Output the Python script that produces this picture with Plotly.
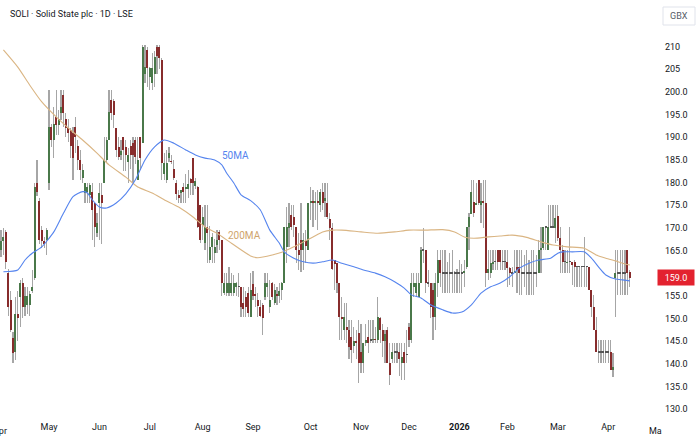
import plotly.graph_objects as go

title_text = "SOLI · Solid State plc · 1D · LSE"
currency = "GBX"
last_price = 159.0

open_ = [
    165, 167, 169, 160, 154, 145.7, 142.5, 151, 154.7, 157.8,
    152.5, 153, 153, 156, 159, 180, 176, 169.6, 167, 167.3,
    180, 192.3, 189.4, 194.4, 192.7, 195.3, 199.3, 194, 192, 191.6,
    191, 192.3, 188, 185, 181, 177.6, 178, 177.2, 178, 175.5,
    168.8, 175.5, 177.2, 180, 185, 189.4, 198.2, 198, 192, 187.8,
    186, 190, 187.8, 184.5, 188, 188.7, 189.4, 180.5, 190, 188.7,
    204, 209.3, 203.3, 202, 204, 210, 210, 207, 182, 180.5,
    185.4, 184.8, 183, 180, 177.3, 177.6, 179, 178.5, 178.6, 180.8,
    185.4, 179.2, 179, 175, 170.6, 166.6, 170.2, 162.9, 165.8, 164.4,
    166.2, 169, 167.3, 155.6, 155.6, 155.6, 155.6, 155.6, 157, 157,
    157, 153.4, 154.8, 155.6, 150.4, 157.5, 155.5, 154.1, 152.6, 153,
    154.8, 157, 152.6, 157.8, 153.4, 155.5, 155, 156.3, 157.8, 165.8,
    170, 172.8, 172.4, 170.2, 165, 167.3, 165.1, 167, 165.1, 175.5,
    176, 175.5, 176, 175, 178, 176, 175.5, 172, 170, 162.9,
    162.2, 157.8, 150.4, 147.4, 148, 147.4, 146, 144, 145, 146.7,
    142.5, 140.1, 144.5, 146, 145.2, 145.2, 145.5, 145.2, 150, 147.4,
    145, 147.4, 140.1, 141, 142.6, 142.6, 142.6, 140.1, 142.6, 142,
    148.1, 145.2, 157, 155.6, 154.8, 157.8, 165.1, 165.1, 157.8, 157.8,
    156.3, 150.4, 157.8, 162.9, 160, 160, 160, 160, 160, 160,
    160, 160, 160, 160, 161.4, 170.2, 173, 175.8, 175, 180.5,
    175, 176, 175.5, 160, 160, 162, 162.5, 165.1, 165.1, 162.5,
    162.5, 162.5, 161.2, 160, 160, 161.4, 161.4, 160, 160, 160,
    160, 160, 160, 160, 160, 165.1, 165.5, 170.2, 165.1, 170.2,
    170.2, 170, 172.6, 167.8, 165.1, 162.5, 162.2, 162.5, 162.5, 162.5,
    161.4, 161.4, 161.4, 161.4, 161.4, 161.4, 156.3, 152.6, 147.4, 142.6,
    142.6, 142.6, 142.6, 142.6, 142.6, 138.6, 159, 160, 160, 160,
    160, 165.1, 160.3,
]
high = [
    169.5, 170, 169.5, 161, 156, 147, 154.7, 156, 158.5, 159,
    157, 157, 156, 160.6, 180, 185, 176.5, 170.5, 168, 170,
    200.4, 193, 196.7, 200.4, 196, 200.4, 200.4, 195.3, 194, 192,
    192.3, 194.5, 189.4, 187.2, 184, 180, 180, 180, 180, 175.5,
    173.2, 180, 180, 190, 190, 200.4, 200.4, 198.5, 192, 190,
    189.4, 190, 189.4, 187.6, 189.5, 190, 190, 190, 190, 210.4,
    210.4, 210, 205.5, 208.6, 209, 210.4, 210.4, 207.5, 186.5, 187.2,
    187.8, 186, 185, 180.5, 178.4, 178.4, 180, 182, 182.8, 181,
    185.4, 181, 179.2, 175, 174.6, 175, 175, 170.5, 168.8, 167.5,
    169.5, 169.5, 167.3, 160, 160, 161.4, 160, 159.5, 158, 160,
    157, 157, 156, 157, 160, 160.5, 157, 155.6, 154, 153.4,
    160, 160, 158.5, 158, 157.5, 157, 157.8, 158, 170.2, 174.6,
    175.5, 175, 175, 170.2, 168.8, 175.5, 168.8, 169.5, 175.5, 179,
    178.4, 178, 178.4, 178.5, 180, 179.8, 179.8, 173.2, 171, 162.9,
    162.2, 157.8, 154.8, 153.5, 153.4, 149.7, 149.7, 148.1, 147.4, 149.7,
    148.8, 144.5, 148.8, 149.7, 149.7, 149.7, 148, 154.8, 150.4, 148.8,
    147.4, 148, 144.5, 144.5, 144.5, 144.5, 144.5, 144.5, 144.5, 147.4,
    149, 160, 160, 160, 160, 165.8, 170, 165.1, 160.7, 157.8,
    157.8, 160, 165.1, 165.1, 165.1, 165.1, 162.5, 164.5, 165, 160.5,
    161, 163, 162, 163, 170.2, 173.2, 180.5, 180.5, 180, 180.5,
    180, 180.5, 180.5, 165.1, 165.1, 165.1, 165.1, 165.1, 165.1, 165.1,
    165.1, 165.1, 161.4, 161.4, 165.1, 165.1, 165.1, 165.1, 164, 165.1,
    163, 165.1, 165.1, 164, 167.3, 170.2, 170.2, 170.2, 175, 175,
    175, 175, 175, 170.2, 166.2, 165.1, 165.1, 170.2, 162.5, 162.9,
    161.4, 161.4, 161.4, 168, 161.4, 161.4, 156.3, 155.2, 150.4, 145.2,
    145.2, 145.2, 145.2, 145.2, 145.2, 142.3, 165.1, 165.1, 165.1, 165.1,
    165.1, 165.1, 160.7,
]
low = [
    163.5, 164, 161, 150.5, 147, 140.2, 140.8, 145, 148, 150,
    150.5, 151, 150.5, 155.6, 158.5, 177, 166.5, 165.5, 165.5, 164,
    178.4, 187.8, 185.4, 190.5, 190.5, 193.8, 192.3, 190, 189, 185.4,
    180.5, 186.5, 182.8, 180.5, 180, 175.5, 175.5, 175.5, 167.3, 165.7,
    168, 167.3, 166.5, 180, 184.3, 189.4, 193.8, 192, 185.6, 185,
    185, 182.6, 182.6, 180, 183, 180, 184, 180.5, 182.8, 188.7,
    202, 201, 200.4, 200.4, 201, 204, 205, 180.5, 180.5, 180,
    184.5, 184, 180.5, 176.2, 175.5, 175.5, 175.5, 175.5, 176.7, 177.2,
    177.2, 178.5, 170, 166.6, 167.3, 165.1, 162.2, 162.2, 162.2, 162.2,
    164.4, 165.1, 155, 155.2, 155, 155, 155, 155, 155, 154.8,
    150.4, 150.4, 150.4, 150.4, 150.4, 154, 152.6, 150.4, 150.4, 146.3,
    154.1, 154.8, 151.1, 154, 153, 153, 153.5, 154, 157.8, 162.2,
    165.8, 169.5, 168, 162.2, 160.7, 160.3, 160.7, 162.2, 165.1, 171.7,
    170.2, 171.7, 169.5, 173.5, 173.9, 172.4, 172, 167.3, 160.7, 156.3,
    155.6, 145.2, 145.2, 145.2, 144.5, 141, 140.1, 142.3, 141, 135.7,
    138, 138, 144, 142.3, 144.5, 144.5, 144.5, 144.5, 144.5, 141.4,
    140.1, 140.1, 135.3, 140.1, 140.1, 140.1, 137.2, 136.4, 136.4, 140.1,
    143.8, 144.5, 154.8, 154.8, 154.8, 157.8, 162.2, 155.6, 157, 150,
    145.2, 147.4, 154.8, 157, 155.6, 155.6, 155.6, 155.6, 155.6, 155.6,
    155.6, 155.6, 155.6, 157, 161, 165.1, 173, 172.4, 175, 175,
    171, 170, 157, 158.5, 159, 160.7, 160.7, 160.7, 160.7, 160.7,
    160.7, 157, 157.4, 157, 160, 155.6, 155.2, 155.2, 157, 155.2,
    155.2, 155.2, 155.2, 157, 160, 160, 165.1, 165.1, 165.1, 170.2,
    170.2, 166.6, 167, 160, 160, 160, 160, 160, 157.4, 157,
    157, 157, 157, 157, 157, 156.3, 150.4, 147.4, 142.6, 140.1,
    140.1, 140.1, 140.1, 140.1, 138.6, 137.1, 150.4, 155.2, 155.2, 155.2,
    155.2, 155.2, 157,
]
close = [
    167, 168, 162.5, 152.5, 147.5, 142.3, 151, 150, 157.8, 152.5,
    155, 155, 155.5, 157, 179, 178, 167.3, 167, 166.5, 169.5,
    192.3, 189.4, 193, 192.7, 194, 196.7, 195.3, 192, 191, 188,
    185.4, 190, 185, 182.8, 182.8, 179.8, 179, 179.4, 174, 170.2,
    171, 177.6, 175.5, 185, 189.4, 195.6, 195.3, 195, 187.2, 185.6,
    187, 187.2, 186, 186, 186, 186, 185.6, 185, 185.4, 210,
    205.5, 205.3, 205.3, 205.3, 207.7, 208, 207.6, 184.3, 184.3, 184.3,
    186.5, 184.5, 181, 177.5, 176.5, 178.4, 178, 179, 179.7, 180,
    180, 180.4, 170.2, 167.3, 172.4, 170.2, 168.8, 165.8, 168, 165.8,
    167.3, 167.3, 157.8, 157.8, 157.8, 157.8, 157.8, 157.8, 157.8, 157,
    152.6, 152, 152.6, 151.2, 156.3, 155, 155, 152.7, 150.5, 150.1,
    157.8, 157.8, 154, 154.8, 156.3, 155, 156, 157.8, 170.2, 170.2,
    171, 170.2, 170.6, 165.1, 164, 165.1, 167.3, 166, 175.5, 176,
    175.5, 176, 175.5, 178, 175.5, 176.5, 172.4, 170, 161, 162,
    157.8, 150.4, 149.8, 150.4, 147.4, 143.7, 143, 145, 144.5, 140.1,
    140.1, 144.5, 145.2, 144.5, 145.2, 145.5, 145.2, 150.4, 147.4, 145,
    146.5, 140.1, 137.5, 142.6, 142.6, 142.6, 141, 141.5, 140.1, 142,
    145.2, 157.8, 157.8, 157.8, 157.8, 165.1, 165.1, 157.8, 157.8, 152.6,
    150.4, 157.8, 162.9, 160, 160, 160, 160, 160, 160, 160,
    160, 160, 160, 160.5, 170.2, 172.4, 178, 173.2, 175.5, 175.5,
    176, 175.5, 160, 161, 162.2, 162.5, 162.5, 162.5, 162.5, 162.5,
    162.5, 161.2, 160, 160, 160.5, 160.7, 160, 160, 160, 160,
    160, 160, 160, 160, 165.1, 165.5, 170.2, 170.2, 170.2, 170.2,
    170.2, 172.2, 167.8, 165.1, 162.5, 162.5, 162.5, 162.5, 161.8, 161.4,
    161.4, 161.4, 161.4, 161.4, 161.4, 156.3, 152.6, 147.4, 142.6, 142.6,
    142.6, 142.6, 142.6, 142.6, 138.6, 139.2, 160, 160, 160, 160,
    160, 160, 159,
]

ma50_x = [1, 7, 10, 13, 17, 22, 26, 30, 34, 36, 38, 41, 44, 48, 52, 56, 60, 64, 68, 72,
          77, 81, 85, 89, 92, 94, 97, 100, 104, 108, 112, 116, 118, 122, 126, 130, 134, 138, 142, 147,
          151, 156, 160, 164, 168, 171, 175, 179, 184, 188, 192, 196, 200, 204, 208, 212, 216, 220, 224, 229,
          232, 234, 238, 243, 246, 250, 252, 256, 259, 262]
ma50_y = [160.3, 160.7, 162.9, 164.4, 165.8, 169.1, 173.2, 176.9, 178.0, 177.7, 176.2, 174.6, 174.4, 175.5, 177.5,
          180.6, 185.0, 187.9, 189.4, 188.7, 187.2, 186.1, 185.4, 185.0, 183.9, 182.1, 179.9, 177.3, 176.0, 174.0,
          169.5, 166.6, 164.7, 163.3, 162.5, 162.2, 162.5, 162.9, 162.2, 161.4, 160.7, 160.0, 159.2, 158.1, 156.7,
          155.2, 154.5, 153.0, 151.9, 151.2, 151.4, 153.0, 155.6, 157.0, 157.8, 159.2, 161.1, 162.2, 162.9, 163.3,
          164.4, 164.7, 164.7, 164.7, 163.3, 160.7, 159.6, 158.7, 158.5, 158.3]
ma200_x = [1, 7, 12, 17, 23, 29, 34, 40, 45, 52, 57, 63, 68, 74, 80, 85, 90, 96, 104, 107,
           113, 117, 122, 126, 130, 134, 138, 142, 150, 157, 164, 170, 177, 184, 189, 193, 197, 203, 208, 213,
           219, 225, 230, 236, 243, 248, 252, 256, 259, 262]
ma200_y = [209.3, 205.5, 201.5, 197.8, 194.5, 191.6, 189.4, 186.5, 183.9, 181.2, 179.0, 177.7, 176.2, 174.6, 172.4,
           170.2, 168.8, 166.6, 163.8, 163.4, 164.0, 164.6, 165.8, 166.9, 168.0, 169.1, 169.5, 169.5, 169.1, 168.8,
           169.1, 169.5, 169.5, 169.6, 169.1, 168.0, 167.7, 168.0, 168.2, 168.4, 167.9, 166.9, 166.2, 165.8, 165.5,
           164.0, 163.3, 162.7, 162.2, 161.8]

month_pos = [20, 41, 62, 84, 105, 129, 150, 170, 191, 211, 232, 253]
month_lbl = ["May", "Jun", "Jul", "Aug", "Sep", "Oct", "Nov", "Dec", "<b>2026</b>", "Feb", "Mar", "Apr"]
edge_lbl_left = "Apr"   # partly cut off at the left edge
edge_lbl_right = "Ma"   # cut off under the price scale
# 160.0 is hidden behind the last-price label in the reference
price_ticks = [130, 135, 140, 145, 150, 155, 165, 170, 175, 180, 185, 190, 195, 200, 205, 210]
price_lbls = ["130.0", "135.0", "140.0", "145.0", "150.0", "155.0", "165.0", "170.0", "175.0",
              "180.0", "185.0", "190.0", "195.0", "200.0", "205", "210"]

lens = {len(open_), len(high), len(low), len(close)}
if len(lens) != 1:
    raise SystemExit(f"length mismatch {len(open_)} {len(high)} {len(low)} {len(close)}")

n = len(close)
idx = list(range(n))
MIN_BODY = 0.3
body_base, body_h, body_col, wick_base, wick_h = [], [], [], [], []
for o, h, l, c in zip(open_, high, low, close):
    lo_b, hi_b = min(o, c), max(o, c)
    d = hi_b - lo_b
    if d < MIN_BODY:
        lo_b -= (MIN_BODY - d) / 2
        d = MIN_BODY
    body_base.append(lo_b)
    body_h.append(d)
    body_col.append("#4a784a" if c > o else ("#872c2c" if c < o else "#555555"))
    wl, wh = min(l, o, c), max(h, o, c)
    wick_base.append(wl)
    wick_h.append(wh - wl)

PLOT_W, PLOT_H = 645, 420
Y0, Y1 = 127.57, 220.31
X0, X1 = -0.42, 268.33

fig = go.Figure()
fig.add_trace(go.Bar(x=idx, y=wick_h, base=wick_base, width=0.5,
                     marker=dict(color="#a6a6a6", line=dict(width=0))))
fig.add_trace(go.Bar(x=idx, y=body_h, base=body_base, width=0.8,
                     marker=dict(color=body_col, line=dict(width=0))))
fig.add_trace(go.Scatter(x=ma200_x, y=ma200_y, mode="lines",
                         line=dict(color="#dab583", width=1.1, shape="spline", smoothing=0.6)))
fig.add_trace(go.Scatter(x=ma50_x, y=ma50_y, mode="lines",
                         line=dict(color="#5584ee", width=1.1, shape="spline", smoothing=0.6)))

fig.update_layout(
    width=700, height=443,
    margin=dict(l=0, r=700 - PLOT_W, t=0, b=443 - PLOT_H, pad=0),
    paper_bgcolor="white", plot_bgcolor="white",
    barmode="overlay", bargap=0, showlegend=False, hovermode=False,
    font=dict(family="Roboto", size=9, color="#131722"),
)
fig.update_xaxes(range=[X0, X1], tickvals=month_pos, ticktext=month_lbl, showgrid=False,
                 zeroline=False, showline=False, ticks="", automargin=False,
                 tickfont=dict(size=9, color="#131722"))
fig.update_yaxes(side="right", range=[Y0, Y1], tickvals=price_ticks, ticktext=price_lbls,
                 showgrid=False, zeroline=False, showline=False, ticks="", automargin=False,
                 ticklabelstandoff=19, tickfont=dict(size=9, color="#131722"))

# title
fig.add_annotation(text=title_text, xref="paper", yref="paper", x=8 / PLOT_W, y=1 - 14 / PLOT_H,
                   xanchor="left", yanchor="middle", showarrow=False,
                   font=dict(size=9, color="#131722"))
# MA labels
fig.add_annotation(text="50MA", x=91.3, y=185.9, xanchor="left", yanchor="middle", showarrow=False,
                   font=dict(size=10, color="#5584ee"))
fig.add_annotation(text="200MA", x=93.8, y=168.4, xanchor="left", yanchor="middle", showarrow=False,
                   font=dict(size=10, color="#cfa46c"))
# last price label
fig.add_annotation(text=f"{last_price:.1f}", xref="paper", yref="y", x=676 / PLOT_W, y=last_price,
                   xanchor="center", yanchor="middle", showarrow=False, width=34, height=13,
                   bgcolor="#e3222f", font=dict(size=9, color="white"))
# currency box
fig.add_shape(type="rect", xref="paper", yref="paper", x0=663 / PLOT_W, x1=695 / PLOT_W,
              y0=1 - 25 / PLOT_H, y1=1 - 7 / PLOT_H, line=dict(color="#e0e3eb", width=1),
              fillcolor="white")
fig.add_annotation(text=currency, xref="paper", yref="paper", x=679 / PLOT_W, y=1 - 16 / PLOT_H,
                   xanchor="center", yanchor="middle", showarrow=False,
                   font=dict(size=9, color="#555b66"))
# month labels cut at the edges of the time scale
fig.add_annotation(text=edge_lbl_left, xref="paper", yref="paper", x=-9 / PLOT_W,
                   y=-(431 - PLOT_H) / PLOT_H, xanchor="left", yanchor="middle", showarrow=False,
                   font=dict(size=9, color="#131722"))
fig.add_annotation(text=edge_lbl_right, xref="paper", yref="paper", x=647 / PLOT_W,
                   y=-(431 - PLOT_H) / PLOT_H, xanchor="left", yanchor="middle", showarrow=False,
                   font=dict(size=9, color="#131722"))

fig.write_html("out.html", config={"displayModeBar": False, "staticPlot": True})
